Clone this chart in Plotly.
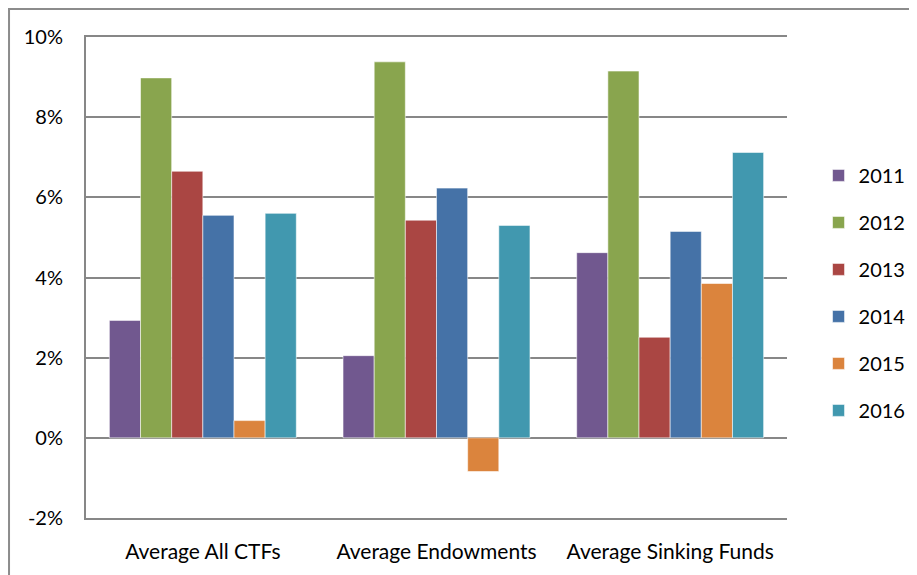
import plotly.graph_objects as go

# Retornos médios por tipo de fundo e ano
categorias = ["Average All CTFs", "Average Endowments", "Average Sinking Funds"]
anos = ["2011", "2012", "2013", "2014", "2015", "2016"]

ret_2011 = [0.0293, 0.0205, 0.0462]
ret_2012 = [0.0898, 0.0938, 0.0915]
ret_2013 = [0.0665, 0.0543, 0.0251]
ret_2014 = [0.0555, 0.0623, 0.0515]
ret_2015 = [0.0043, -0.0084, 0.0385]
ret_2016 = [0.0560, 0.0530, 0.0712]

ticks_y = [-0.02, 0.0, 0.02, 0.04, 0.06, 0.08, 0.10]
rotulos_y = ["-2%", "0%", "2%", "4%", "6%", "8%", "10%"]

cores = ["#71588F", "#89A54E", "#AA4643", "#4572A7", "#DB843D", "#4198AF"]
GRID = "#878787"
FONTE = "Lato"

series = [ret_2011, ret_2012, ret_2013, ret_2014, ret_2015, ret_2016]

fig = go.Figure()
for ano, valores, cor in zip(anos, series, cores):
    fig.add_trace(go.Bar(
        x=categorias,
        y=valores,
        name=ano,
        legendgroup=ano,
        marker=dict(color=cor, line=dict(color="rgba(255,255,255,0.55)", width=1)),
    ))

# Moldura externa do gráfico
fig.add_shape(
    type="rect", xref="paper", yref="paper",
    x0=-0.1098, x1=1.4, y0=-0.3, y1=1.058,
    line=dict(color="#8c8c8c", width=2), fillcolor="rgba(0,0,0,0)", layer="below",
)

fig.update_layout(
    width=917,
    height=575,
    paper_bgcolor="white",
    plot_bgcolor="white",
    font=dict(family=FONTE, size=20, color="black"),
    margin=dict(l=78, r=138, t=29, b=65),
    barmode="group",
    bargap=0.2,
    bargroupgap=0,
    showlegend=True,
    legend=dict(
        x=1.045, xanchor="left", y=0.468, yanchor="middle",
        font=dict(family=FONTE, size=20),
        tracegroupgap=18,
        bgcolor="rgba(0,0,0,0)",
    ),
    xaxis=dict(
        showgrid=False,
        showline=True, mirror=True, linecolor=GRID, linewidth=2,
        ticks="", ticklabelstandoff=14,
        tickfont=dict(size=21),
    ),
    yaxis=dict(
        range=[-0.02, 0.10],
        tickvals=ticks_y,
        ticktext=rotulos_y,
        showgrid=True, gridcolor=GRID, gridwidth=2,
        zeroline=True, zerolinecolor=GRID, zerolinewidth=2,
        showline=True, linecolor=GRID, linewidth=2,
        ticks="", ticklabelstandoff=17,
    ),
)

fig.write_html("out.html")
